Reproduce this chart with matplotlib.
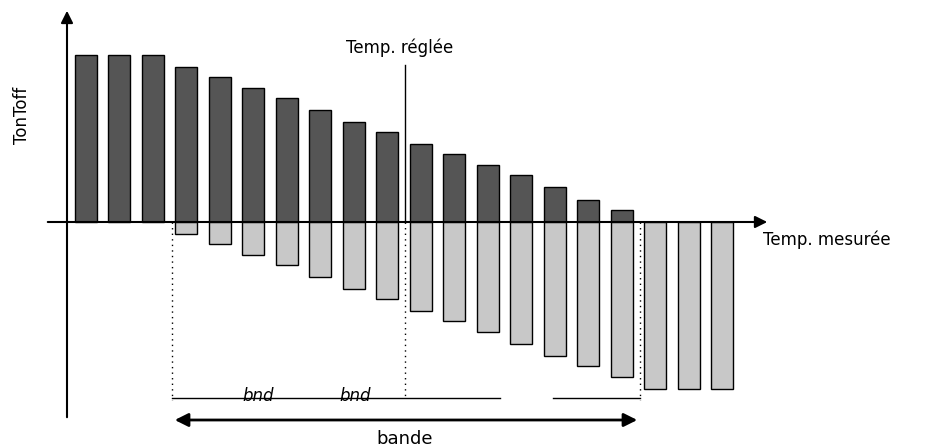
import matplotlib
matplotlib.use("Agg")
import matplotlib.pyplot as plt
import numpy as np

dark_idx = list(range(0, 17))
dark_vals = [100, 100, 100, 93, 87, 80, 74, 67, 60, 54, 47, 41, 34, 28, 21, 13, 7]
light_idx = list(range(3, 20))
light_vals = [-7, -13, -20, -26, -33, -40, -46, -53, -59, -66, -73, -80, -86, -93, -100, -100, -100]

fig = plt.figure(figsize=(9.29, 4.48), dpi=100)
ax = fig.add_axes([0, 0, 1, 1])
px = lambda p: (p - 86) / 33.5
py = lambda p: (222 - p) / 167 * 100
ax.set_xlim(px(0), px(929))
ax.set_ylim(py(448), py(0))
ax.axis("off")

w = 22 / 33.5
ax.bar(dark_idx, dark_vals, width=w, color="#555555", edgecolor="black", lw=1)
ax.bar(light_idx, light_vals, width=w, color="#c8c8c8", edgecolor="black", lw=1)

# axes with arrows
ax.annotate("", xy=(px(67), py(8)), xytext=(px(67), py(420)),
            arrowprops=dict(arrowstyle="-|>", color="black", lw=1.5, mutation_scale=18))
ax.annotate("", xy=(px(770), py(222)), xytext=(px(45), py(222)),
            arrowprops=dict(arrowstyle="-|>", color="black", lw=1.5, mutation_scale=18))
ax.text(px(22), py(115), "TonToff", rotation=90, ha="center", va="center", fontsize=12)
ax.text(px(763), py(240), "Temp. mesurée", ha="left", va="center", fontsize=12)

# set temperature
ax.plot([px(405), px(405)], [py(65), py(222)], color="black", lw=1)
ax.plot([px(405), px(405)], [py(222), py(398)], color="black", lw=1, ls=(0, (1, 3)))
ax.text(px(400), py(48), "Temp. réglée", ha="center", va="center", fontsize=12)

for xp in (172, 640):
    ax.plot([px(xp), px(xp)], [py(222), py(400)], color="black", lw=1, ls=(0, (1, 3)))

ax.plot([px(172), px(500)], [py(398), py(398)], color="black", lw=1)
ax.plot([px(553), px(640)], [py(398), py(398)], color="black", lw=1)
for xp in (258, 355):
    ax.text(px(xp), py(396), "bnd", ha="center", va="center", fontsize=12, style="italic")

ax.annotate("", xy=(px(172), py(420)), xytext=(px(640), py(420)),
            arrowprops=dict(arrowstyle="<|-|>", color="black", lw=2, mutation_scale=20))
ax.text(px(405), py(439), "bande", ha="center", va="center", fontsize=13)

fig.savefig("out.png", dpi=100)
